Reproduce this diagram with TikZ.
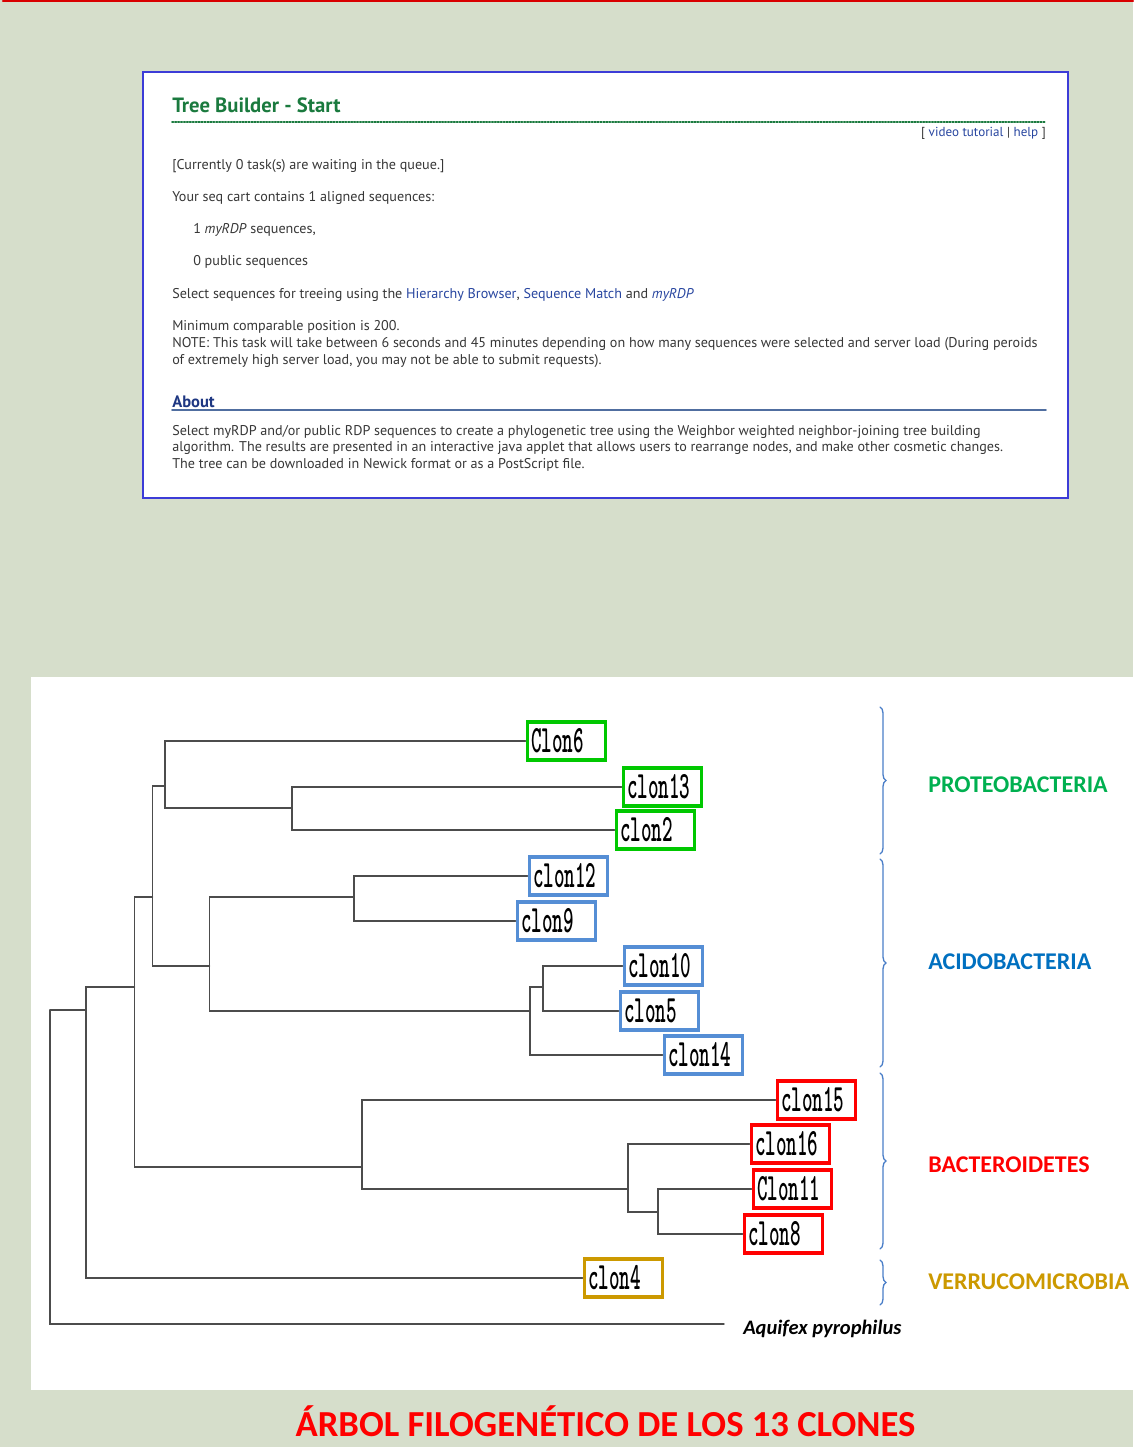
\documentclass[tikz,border=0pt]{standalone}
\usepackage{fontspec}
\setmainfont{PT Sans}
\newfontfamily\calibri{Carlito}
\usetikzlibrary{decorations.pathreplacing}

\definecolor{fondo}{RGB}{214,222,203}
\definecolor{webgruen}{RGB}{26,122,62}
\definecolor{weblink}{RGB}{40,70,160}
\definecolor{webgrau}{RGB}{55,55,55}
\definecolor{aboutblau}{RGB}{30,55,130}
\definecolor{aboutlinie}{RGB}{80,110,160}
\definecolor{rahmenblau}{RGB}{60,60,215}
\definecolor{protgruen}{RGB}{0,200,0}
\definecolor{acidoblau}{RGB}{85,142,213}
\definecolor{bactrot}{RGB}{255,0,0}
\definecolor{verrugold}{RGB}{204,153,0}
\definecolor{klammerblau}{RGB}{74,126,200}
\definecolor{proteotext}{RGB}{0,176,80}
\definecolor{acidotext}{RGB}{0,112,192}

\newcommand{\clon}[1]{\scalebox{0.52}[1]{\ttfamily\bfseries #1}}

\begin{document}
\begin{tikzpicture}
    [x=0.75pt, y=-0.75pt,
    line cap=round,
    ast/.style={draw=black!70, line width=1.1pt},
    clonbox/.style={draw=#1, line width=2.3pt, fill=white, anchor=west,
        minimum width=58.5pt, minimum height=28.5pt, inner xsep=3pt, inner ysep=0pt,
        text width=52.5pt, align=left, font=\fontsize{29}{29}\selectfont},
    klammer/.style={draw=klammerblau, line width=1pt, decorate,
        decoration={brace, amplitude=4.5pt}},
    gruppe/.style={anchor=west, inner sep=0pt, font=\calibri\bfseries\fontsize{18}{18}\selectfont},
    webtext/.style={anchor=base west, text=webgrau, inner sep=0pt,
        font=\fontsize{10.6}{12}\selectfont}]

    \useasboundingbox (0,0) rectangle (1133,1447);
    % Hintergrund
    \fill[fondo] (0,0) rectangle (1133,1447);
    \draw[red!85!black, line width=1.8pt] (3,1) -- (1133,1);

    % Bildschirmfoto
    \draw[rahmenblau, fill=white, line width=1.5pt] (143,72) rectangle (1068,498);
    \node[anchor=base west, text=webgruen, inner sep=0pt,
        font=\bfseries\fontsize{15.5}{15.5}\selectfont] (titel) at (172,112) {Tree Builder - Start};
    \draw[webgruen, line width=1.2pt, dash pattern=on 1.1pt off 1.1pt] (172,122) -- (1046,122);
    \node[anchor=base east, text=webgrau, inner sep=0pt, font=\fontsize{9.8}{10}\selectfont]
        (hilfe) at (1046,136) {[ \textcolor{weblink}{video tutorial} | \textcolor{weblink}{help} ]};
    \node[webtext] (queue) at (172,169) {[Currently 0 task(s) are waiting in the queue.]};
    \node[webtext] (cart) at (172,201) {Your seq cart contains 1 aligned sequences:};
    \node[webtext] (myrdp) at (193,233) {1 \textit{myRDP} sequences,};
    \node[webtext] (public) at (193,265) {0 public sequences};
    \node[webtext] (select) at (172,298) {Select sequences for treeing using the
        \textcolor{weblink}{Hierarchy Browser}, \textcolor{weblink}{Sequence Match} and
        \textcolor{weblink}{\textit{myRDP}}};
    \node[webtext] (minpos) at (172,330) {Minimum comparable position is 200.};
    \node[webtext] (note1) at (172,347) {NOTE: This task will take between 6 seconds and 45 minutes
        depending on how many sequences were selected and server load (During peroids};
    \node[webtext] (note2) at (172,364) {of extremely high server load, you may not be able to submit requests).};
    \node[anchor=base west, text=aboutblau, inner sep=0pt,
        font=\bfseries\fontsize{12.4}{12.4}\selectfont] (about) at (172,407) {About};
    \draw[aboutlinie, line width=1.2pt] (172,410) -- (1046,410);
    \node[webtext] (about1) at (172,435) {Select myRDP and/or public RDP sequences to create a
        phylogenetic tree using the Weighbor weighted neighbor-joining tree building};
    \node[webtext] (about2) at (172,451) {algorithm.  The results are presented in an interactive
        java applet that allows users to rearrange nodes, and make other cosmetic changes.};
    \node[webtext] (about3) at (172,468) {The tree can be downloaded in Newick format or as a PostScript file.};

    % Baum
    \fill[white] (31,677) rectangle (1133,1390);

    \node[clonbox=protgruen] (clon6)  at (525.5,741) {\clon{Clon6}};
    \node[clonbox=protgruen] (clon13) at (621.5,787) {\clon{clon13}};
    \node[clonbox=protgruen] (clon2)  at (614.5,830) {\clon{clon2}};
    \node[clonbox=acidoblau] (clon12) at (527.5,876) {\clon{clon12}};
    \node[clonbox=acidoblau] (clon9)  at (515.5,921) {\clon{clon9}};
    \node[clonbox=acidoblau] (clon10) at (622.5,966) {\clon{clon10}};
    \node[clonbox=acidoblau] (clon5)  at (618.5,1011) {\clon{clon5}};
    \node[clonbox=acidoblau] (clon14) at (662.5,1055) {\clon{clon14}};
    \node[clonbox=bactrot]   (clon15) at (775.5,1100) {\clon{clon15}};
    \node[clonbox=bactrot]   (clon16) at (749.5,1144) {\clon{clon16}};
    \node[clonbox=bactrot]   (clon11) at (751.5,1189) {\clon{Clon11}};
    \node[clonbox=bactrot]   (clon8)  at (742.5,1234) {\clon{clon8}};
    \node[clonbox=verrugold] (clon4)  at (582.5,1278) {\clon{clon4}};
    \coordinate (aqend) at (724,1324);
    \node[anchor=west, inner sep=0pt, font=\calibri\bfseries\itshape\fontsize{15.4}{15.4}\selectfont]
        (aquifex) at (743,1329) {Aquifex pyrophilus};

    \coordinate (M) at (50,1010);
    \coordinate (L) at (86,1010);
    \coordinate (H) at (134.5,987);
    \coordinate (C) at (152.5,897);
    \coordinate (A) at (165,786);
    \coordinate (B) at (292,808);
    \coordinate (D) at (209.5,966);
    \coordinate (E) at (354,897);
    \coordinate (F) at (530,1011);
    \coordinate (G) at (543,987);
    \coordinate (I) at (362,1167);
    \coordinate (J) at (628,1189);
    \coordinate (K) at (658,1212);

    \draw[ast] (M) |- (L);
    \draw[ast] (M) |- (aqend);
    \draw[ast] (L) |- (H);
    \draw[ast] (L) |- (clon4.west);
    \draw[ast] (H) |- (C);
    \draw[ast] (H) |- (I);
    \draw[ast] (C) |- (A);
    \draw[ast] (C) |- (D);
    \draw[ast] (A) |- (clon6.west);
    \draw[ast] (A) |- (B);
    \draw[ast] (B) |- (clon13.west);
    \draw[ast] (B) |- (clon2.west);
    \draw[ast] (D) |- (E);
    \draw[ast] (D) |- (F);
    \draw[ast] (E) |- (clon12.west);
    \draw[ast] (E) |- (clon9.west);
    \draw[ast] (F) |- (G);
    \draw[ast] (F) |- (clon14.west);
    \draw[ast] (G) |- (clon10.west);
    \draw[ast] (G) |- (clon5.west);
    \draw[ast] (I) |- (clon15.west);
    \draw[ast] (I) |- (J);
    \draw[ast] (J) |- (clon16.west);
    \draw[ast] (J) |- (K);
    \draw[ast] (K) |- (clon11.west);
    \draw[ast] (K) |- (clon8.west);

    % Klammern und Gruppen
    \draw[klammer] (880,707) -- (880,854);
    \draw[klammer] (880,859) -- (880,1067);
    \draw[klammer] (880,1073) -- (880,1249);
    \draw[klammer] (880,1260) -- (880,1305);
    \node[gruppe, text=proteotext] (proteo) at (928,785) {PROTEOBACTERIA};
    \node[gruppe, text=acidotext]  (acido)  at (928,962) {ACIDOBACTERIA};
    \node[gruppe, text=bactrot]    (bacte)  at (928,1165) {BACTEROIDETES};
    \node[gruppe, text=verrugold]  (verru)  at (928,1282) {VERRUCOMICROBIA};

    \node[anchor=base, text=red, inner sep=0pt, font=\calibri\bfseries\fontsize{27.5}{27.5}\selectfont]
        (arbol) at (605.5,1436) {ÁRBOL FILOGENÉTICO DE LOS 13 CLONES};
\end{tikzpicture}
\end{document}
